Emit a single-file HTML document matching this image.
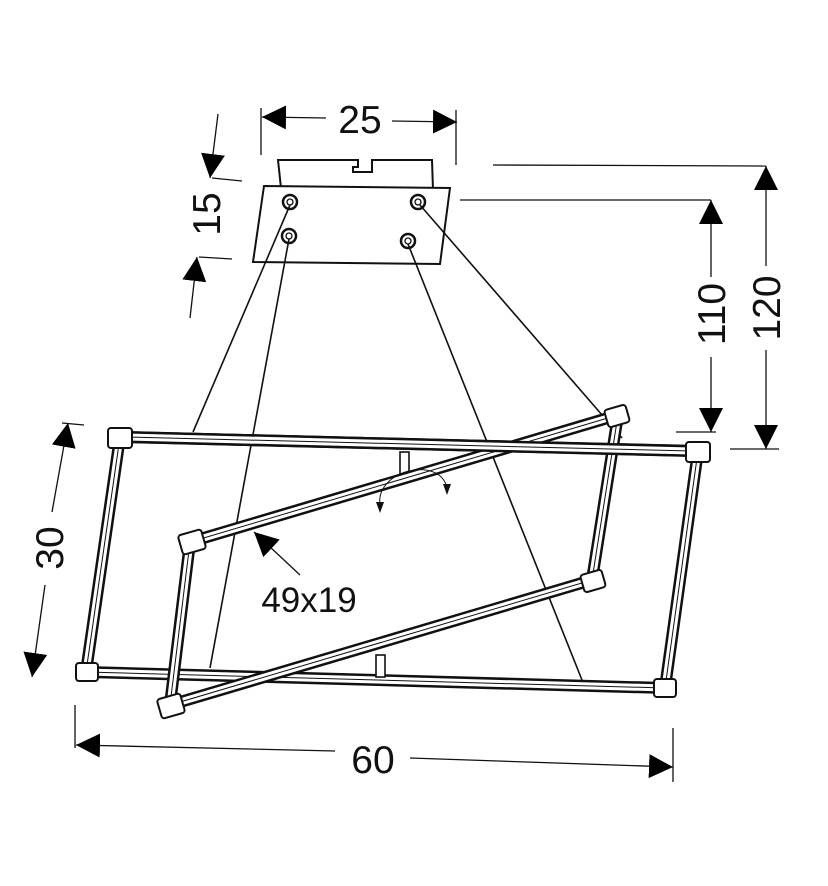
<!DOCTYPE html>
<html><head><meta charset="utf-8"><style>
html,body{margin:0;padding:0;background:#fff;}
svg{display:block;}
text{font-family:"Liberation Sans",Arial,sans-serif;fill:#111;}
</style></head><body>
<svg width="828" height="886" viewBox="0 0 828 886" xmlns="http://www.w3.org/2000/svg">
<defs>
<marker id="a" viewBox="0 0 10 10" refX="10" refY="5" markerWidth="24" markerHeight="24" markerUnits="userSpaceOnUse" orient="auto"><path d="M0,0 L10,5 L0,10 z" fill="#000"/></marker>
</defs>
<rect width="828" height="886" fill="#fff"/>

<!-- canopy -->
<g stroke="#111" stroke-width="2" fill="#fff">
<path d="M281,188 L278,160 L358,160 L358,167 L353,167 L353,172 L372,172 L372,160 L432,160 L433,190"/>
<polygon points="264,186 450,188 440,264 253,262"/>
</g>
<g fill="#fff" stroke="#111" stroke-width="2.5">
<circle cx="290" cy="202" r="7"/><circle cx="289" cy="236" r="7"/>
<circle cx="418" cy="202" r="7"/><circle cx="408" cy="241" r="7"/>
</g>
<g fill="#fff" stroke="#111" stroke-width="1.3">
<circle cx="290" cy="202" r="3"/><circle cx="289" cy="236" r="3"/>
<circle cx="418" cy="202" r="3"/><circle cx="408" cy="241" r="3"/>
</g>

<!-- wires -->
<g stroke="#111" stroke-width="1.6" fill="none">
<line x1="290" y1="205" x2="193" y2="432"/>
<line x1="289" y1="239" x2="210" y2="668"/>
<line x1="408" y1="244" x2="582" y2="680"/>
<line x1="420" y1="205" x2="622" y2="438"/>
</g>

<!-- outer (back) frame -->
<g fill="none">
<polyline points="120,437 698,451 665,688 86,672 120,437" stroke="#111" stroke-width="12"/>
<polyline points="120,437 698,451 665,688 86,672 120,437" stroke="#fff" stroke-width="7"/>
<polyline points="120,437 698,451 665,688 86,672 120,437" stroke="#111" stroke-width="1"/>
</g>
<g stroke="#111" stroke-width="1.6" fill="#fff">
<rect x="400" y="452" width="9" height="22"/>
<rect x="376" y="655" width="9" height="22"/>
</g>

<!-- inner parallelogram frame -->
<g fill="none">
<polyline points="190,542 618,415 592,580 170,705 190,542" stroke="#111" stroke-width="12"/>
<polyline points="190,542 618,415 592,580 170,705 190,542" stroke="#fff" stroke-width="7"/>
<polyline points="190,542 618,415 592,580 170,705 190,542" stroke="#111" stroke-width="1"/>
</g>
<g fill="none">
<line x1="126" y1="437" x2="692" y2="451" stroke="#111" stroke-width="12"/>
<line x1="126" y1="437" x2="692" y2="451" stroke="#fff" stroke-width="7"/>
<line x1="126" y1="437" x2="692" y2="451" stroke="#111" stroke-width="1"/>
</g>
<!-- corners -->
<g fill="#fff" stroke="#111" stroke-width="2">
<rect x="108" y="428" width="24" height="20" rx="3"/>
<rect x="686" y="442" width="24" height="20" rx="3"/>
<rect x="654" y="679" width="22" height="18" rx="3"/>
<rect x="76" y="663" width="22" height="18" rx="3"/>
<rect x="180" y="532" width="24" height="20" rx="3" transform="rotate(-16 192 542)"/>
<rect x="606" y="407" width="22" height="18" rx="3" transform="rotate(-16 617 416)"/>
<rect x="582" y="572" width="22" height="18" rx="3" transform="rotate(-16 593 581)"/>
<rect x="159" y="696" width="24" height="20" rx="3" transform="rotate(-16 171 706)"/>
</g>
<!-- rotation arrows -->
<path d="M380,505 C375,470 440,455 447,488" fill="none" stroke="#111" stroke-width="1"/>
<path d="M376,502 L384,502 L380,513 z M443,484 L451,484 L447,495 z" fill="#111"/>

<!-- dimension lines -->
<g stroke="#111" stroke-width="1.3" fill="none">
<line x1="261" y1="108" x2="261" y2="155"/>
<line x1="456" y1="110" x2="456" y2="165"/>
<line x1="326" y1="118" x2="262" y2="117" marker-end="url(#a)"/>
<line x1="392" y1="121" x2="457" y2="122" marker-end="url(#a)"/>
<line x1="218" y1="114" x2="210" y2="178" marker-end="url(#a)"/>
<line x1="212" y1="178" x2="242" y2="181"/>
<line x1="190" y1="318" x2="197" y2="257" marker-end="url(#a)"/>
<line x1="199" y1="257" x2="232" y2="259"/>
<line x1="493" y1="165" x2="766" y2="166"/>
<line x1="730" y1="449" x2="779" y2="449"/>
<line x1="766" y1="266" x2="766" y2="166" marker-end="url(#a)"/>
<line x1="766" y1="350" x2="766" y2="449" marker-end="url(#a)"/>
<line x1="460" y1="200" x2="711" y2="200"/>
<line x1="676" y1="432" x2="716" y2="432"/>
<line x1="711" y1="277" x2="711" y2="200" marker-end="url(#a)"/>
<line x1="711" y1="357" x2="711" y2="432" marker-end="url(#a)"/>
<line x1="52" y1="512" x2="68" y2="423" marker-end="url(#a)"/>
<line x1="45" y1="585" x2="32" y2="677" marker-end="url(#a)"/>
<line x1="62" y1="423" x2="84" y2="425"/>
<line x1="75" y1="705" x2="75" y2="748"/>
<line x1="673" y1="728" x2="673" y2="782"/>
<line x1="335" y1="751" x2="76" y2="745" marker-end="url(#a)"/>
<line x1="410" y1="758" x2="673" y2="767" marker-end="url(#a)"/>
<line x1="300" y1="575" x2="254" y2="532" marker-end="url(#a)"/>
</g>

<!-- labels -->
<text x="360" y="133" font-size="39" text-anchor="middle">25</text>
<text transform="translate(220,214) rotate(-90)" font-size="39" text-anchor="middle">15</text>
<text transform="translate(725,314) rotate(-90)" font-size="39" text-anchor="middle">110</text>
<text transform="translate(780,308) rotate(-90)" font-size="39" text-anchor="middle">120</text>
<text transform="translate(63,548) rotate(-90)" font-size="39" text-anchor="middle">30</text>
<text x="373" y="773" font-size="39" text-anchor="middle">60</text>
<text x="309" y="612" font-size="35" text-anchor="middle">49x19</text>
</svg>
</body></html>
